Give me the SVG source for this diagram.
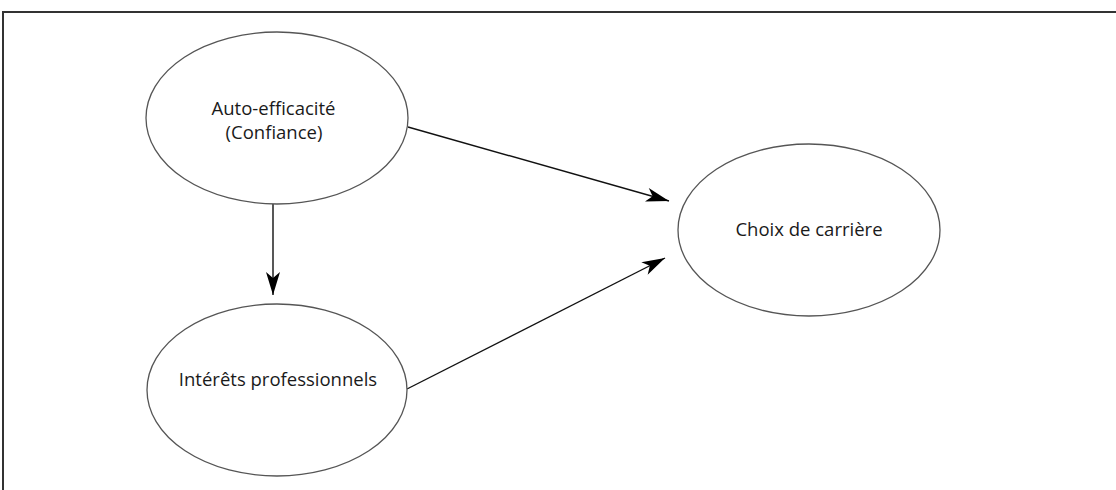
<svg xmlns="http://www.w3.org/2000/svg" width="1116" height="490" viewBox="0 0 1116 490">
<style>
.node{fill:#fff;stroke:#555;stroke-width:1.3}
.lbl{font-family:"Open Sans","Noto Sans",sans-serif;font-size:18.5px;fill:#1a1a1a;text-anchor:middle}
.conn{stroke:#111;stroke-width:1.4;fill:none;marker-end:url(#ah)}
.frame{stroke:#333;stroke-width:2;fill:none}
</style>
<defs>
<marker id="ah" markerUnits="userSpaceOnUse" markerWidth="30" markerHeight="20" viewBox="-24 -10 26 20" refX="0" refY="0" orient="auto">
<path d="M0,0 L-23,-7 L-17,0 L-23,7 Z" fill="#000"/>
</marker>
</defs>
<rect width="1116" height="490" fill="#fff"/>
<path class="frame" d="M3,491 L3,12 L1117,12"/>
<g id="connectors">
<line class="conn" x1="273" y1="204" x2="273" y2="295"/>
<line class="conn" x1="408" y1="127" x2="669" y2="201"/>
<line class="conn" x1="407" y1="389" x2="665" y2="258"/>
</g>
<g id="n1">
<ellipse class="node" cx="277" cy="118" rx="131" ry="86"/>
<text class="lbl" x="273.5" y="115">Auto-efficacité</text>
<text class="lbl" x="274" y="139">(Confiance)</text>
</g>
<g id="n2">
<ellipse class="node" cx="277" cy="390" rx="130" ry="86"/>
<text class="lbl" x="278" y="386">Intérêts professionnels</text>
</g>
<g id="n3">
<ellipse class="node" cx="809" cy="230" rx="131" ry="86"/>
<text class="lbl" x="809" y="236">Choix de carrière</text>
</g>
</svg>
